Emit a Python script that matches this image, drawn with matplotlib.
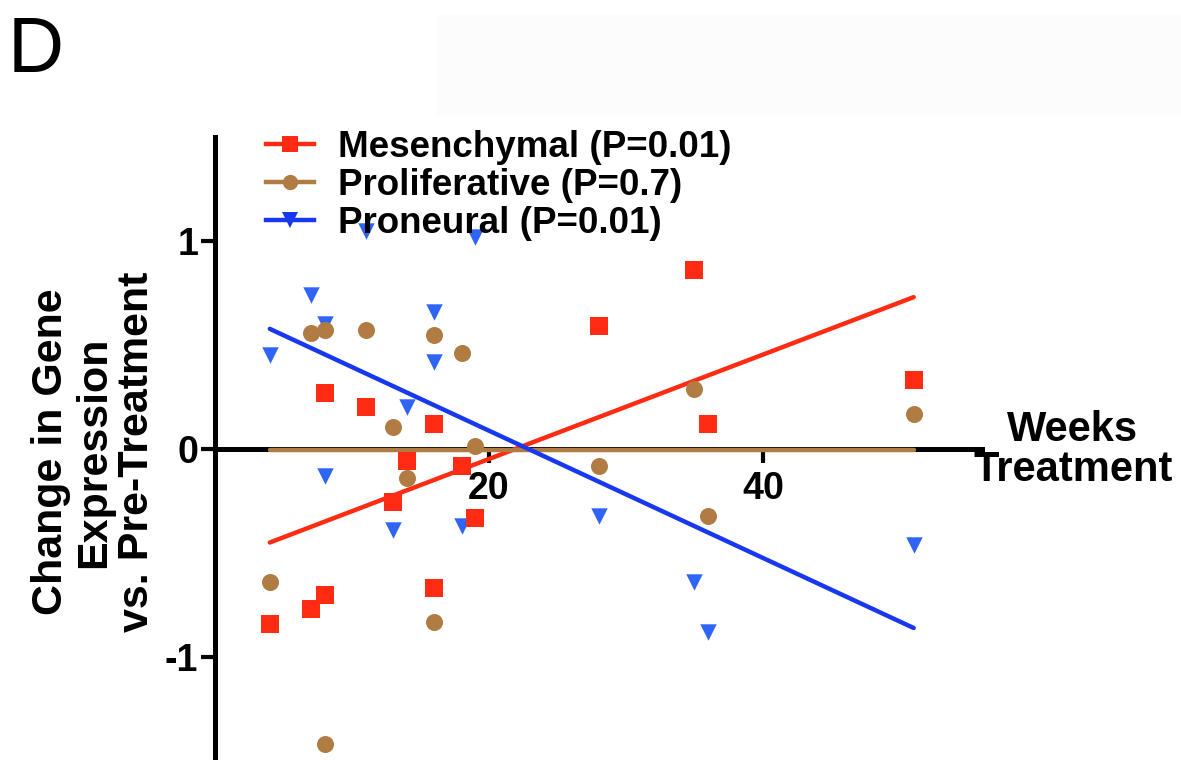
import matplotlib.pyplot as plt
from matplotlib.lines import Line2D
from matplotlib.patches import Rectangle
import numpy as np

# weeks on treatment (same samples for the three signatures)
weeks = [4, 7, 8, 8, 11, 13, 14, 16, 16, 18, 19, 28, 35, 36, 51]

mesenchymal = [-0.84, -0.77, -0.70, 0.27, 0.20, -0.255, -0.06, 0.12, -0.67,
               -0.08, -0.33, 0.59, 0.86, 0.12, 0.33]
proliferative = [-0.64, 0.56, 0.57, -1.42, 0.57, 0.105, -0.14, 0.55, -0.83,
                 0.46, 0.015, -0.08, 0.29, -0.32, 0.17]
proneural = [0.45, 0.74, -0.13, 0.60, 1.05, -0.39, 0.20, 0.66, 0.42,
             -0.37, 1.02, -0.32, -0.64, -0.88, -0.46]

# regression lines (slope, intercept) as drawn in the figure
fit_mes = (0.0251, -0.55)
fit_pro = (0.0, -0.005)
fit_pn = (-0.0306, 0.70)

labels = ['Mesenchymal (P=0.01)', 'Proliferative (P=0.7)', 'Proneural (P=0.01)']

red = '#FF2B12'
brown = '#B07C44'
blue_pt = '#2F65F7'
blue_ln = '#1738F0'

plt.rcParams['font.family'] = ['Liberation Sans', 'DejaVu Sans']
plt.rcParams['font.weight'] = 'bold'
plt.rcParams['axes.unicode_minus'] = False

fig = plt.figure(figsize=(11.81, 7.60), dpi=100)
fig.patches.append(Rectangle((0.37, 0.85), 0.63, 0.13, transform=fig.transFigure,
                             color='#fcfcfc', zorder=0))

ax = fig.add_axes([215 / 1181, -1 / 760, 56 * 13.7 / 1181, 624 / 760])
ax.set_facecolor('none')

xs = np.array([min(weeks), max(weeks)])
ax.plot(xs, fit_mes[0] * xs + fit_mes[1], color=red, lw=3.2, solid_capstyle='round', zorder=3)
ax.plot(xs, fit_pro[0] * xs + fit_pro[1], color=brown, lw=3.2, solid_capstyle='round', zorder=3)
ax.plot(xs, fit_pn[0] * xs + fit_pn[1], color=blue_ln, lw=3.2, solid_capstyle='round', zorder=3)

ax.scatter(weeks, proneural, marker='v', s=140, color=blue_pt, lw=0, zorder=4)
ax.scatter(weeks, proliferative, marker='o', s=150, color=brown, lw=0, zorder=5)
ax.scatter(weeks, mesenchymal, marker='s', s=150, color=red, lw=0, zorder=6)

ax.set_xlim(0, 56)
ax.set_ylim(-1.5, 1.5)
ax.spines['top'].set_visible(False)
ax.spines['right'].set_visible(False)
ax.spines['bottom'].set_position(('data', 0))
for s in ['left', 'bottom']:
    ax.spines[s].set_linewidth(3.6)
    ax.spines[s].set_zorder(2)

ax.set_xticks([20, 40])
ax.set_yticks([-1, 0, 1])
ax.tick_params(axis='both', direction='out', length=10, width=3, labelsize=27)
ax.tick_params(axis='y', pad=2)
ax.tick_params(axis='x', pad=6)
for t in ax.get_xticklabels() + ax.get_yticklabels():
    t.set_fontweight('bold')

fig.text(94 / 1181, 1 - 452 / 760, 'Change in Gene\nExpression\nvs. Pre-Treatment',
         rotation=90, ha='center', va='center', fontsize=31, fontweight='bold',
         linespacing=1.1, multialignment='center')
fig.text(1073 / 1181, 1 - 450 / 760, 'Weeks\nTreatment', ha='center', va='center',
         fontsize=30, fontweight='bold', linespacing=1.0, multialignment='center')
fig.text(8 / 1181, 1 - 51 / 760, 'D', ha='left', va='center', fontsize=56,
         fontweight='normal', family=['Liberation Sans Narrow', 'Liberation Sans'])

handles = [
    Line2D([], [], color=red, lw=3.2, marker='s', ms=11, mew=0),
    Line2D([], [], color=brown, lw=3.2, marker='o', ms=11, mew=0),
    Line2D([], [], color=blue_ln, lw=3.2, marker='v', ms=11, mew=0, mfc=blue_ln),
]
leg = fig.legend(handles, labels, loc='upper left', bbox_to_anchor=(266 / 1181, 1 - 130 / 760),
                 frameon=False, fontsize=26.5, handlelength=1.3, handletextpad=0.65,
                 labelspacing=0.08, borderpad=0, borderaxespad=0, numpoints=1)
for t in leg.get_texts():
    t.set_fontweight('bold')

fig.savefig('out.png', dpi=100)
